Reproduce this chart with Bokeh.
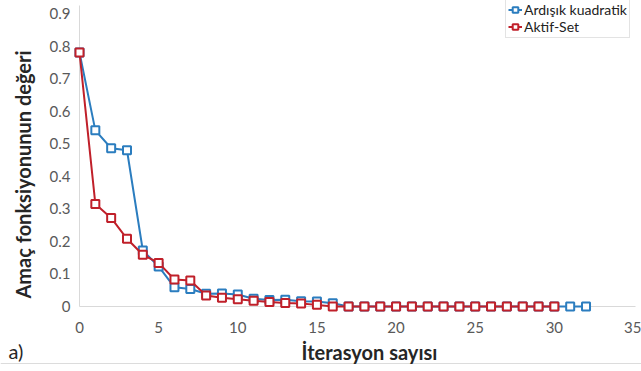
import math
from bokeh.plotting import figure
from bokeh.models import Range1d, Legend, LegendItem, Label, FixedTicker, Span
from bokeh.embed import file_html
from bokeh.resources import INLINE

iter_ak = list(range(0, 33))
ardisik_kuadratik = [0.78, 0.541, 0.486, 0.48, 0.172, 0.123, 0.059, 0.054, 0.039, 0.04,
                     0.037, 0.024, 0.02, 0.021, 0.016, 0.015, 0.01] + [0.0] * 16
iter_as = list(range(0, 31))
aktif_set = [0.78, 0.315, 0.272, 0.208, 0.159, 0.134, 0.083, 0.08, 0.034, 0.027,
             0.022, 0.018, 0.014, 0.011, 0.009, 0.005] + [0.0] * 15

x_ticks = [0, 5, 10, 15, 20, 25, 30, 35]
y_ticks = [0, 0.1, 0.2, 0.3, 0.4, 0.5, 0.6, 0.7, 0.8, 0.9]
x_title = "İterasyon sayısı"
y_title = "Amaç fonksiyonunun değeri"
panel_tag = "a)"

BLUE = "#2b7dbf"
RED = "#c0202a"
FONT = "Lato"

W, H = 641, 371
X0_PX, X35_PX = 79, 633      # pixel columns of x=0 and x=35
Y0_PX, Y09_PX = 306, 13      # pixel rows of y=0 and y=0.9
sx = (X35_PX - X0_PX) / 35.0
sy = (Y0_PX - Y09_PX) / 0.9

# frame fills the whole canvas; axes are drawn at fixed locations inside it
p = figure(width=W, height=H, output_backend="svg", toolbar_location=None,
           x_range=Range1d(-X0_PX / sx, (W - X0_PX) / sx),
           y_range=Range1d(-(H - Y0_PX) / sy, Y0_PX / sy),
           min_border=0, x_axis_location="below", y_axis_location="left")
p.outline_line_color = None
p.xgrid.grid_line_color = None
p.ygrid.grid_line_color = None

for ax in (p.xaxis[0], p.yaxis[0]):
    ax.fixed_location = 0
    ax.axis_line_color = None
    ax.major_tick_line_color = None
    ax.minor_tick_line_color = None
    ax.major_tick_out = 0
    ax.major_tick_in = 0
    ax.major_label_text_font = FONT
    ax.major_label_text_font_size = "15px"
    ax.major_label_text_color = "#595959"

p.xaxis.ticker = FixedTicker(ticks=x_ticks)
p.yaxis.ticker = FixedTicker(ticks=y_ticks)
p.yaxis.formatter.use_scientific = False
p.xaxis.major_label_standoff = 15
p.yaxis.major_label_standoff = 9
p.yaxis.major_label_overrides = {0: "0"}

# axis lines (light grey), from the axis origin
p.segment(x0=[0, 0], y0=[0, 0], x1=[(X35_PX + 2 - X0_PX) / sx, 0],
          y1=[0, (Y0_PX - 5) / sy], line_color="#d9d9d9", line_width=1)
# bottom border of the chart area
p.add_layout(Span(location=-(363 - Y0_PX) / sy, dimension="width",
                  line_color="#dcdcdc", line_width=1))

l1 = p.line(iter_ak, ardisik_kuadratik, line_color=BLUE, line_width=2)
m1 = p.scatter(iter_ak, ardisik_kuadratik, marker="square", size=8,
               line_color=BLUE, line_width=2, fill_color="white")
l2 = p.line(iter_as, aktif_set, line_color=RED, line_width=2)
m2 = p.scatter(iter_as, aktif_set, marker="square", size=8,
               line_color=RED, line_width=2, fill_color="white")

legend = Legend(items=[LegendItem(label="Ardışık kuadratik", renderers=[l1, m1]),
                       LegendItem(label="Aktif-Set", renderers=[l2, m2])],
                location=(505, H - 38))
legend.label_text_font = FONT
legend.label_text_font_size = "14px"
legend.label_text_line_height = 1.0
legend.label_text_color = "#222222"
legend.border_line_color = "#c8c8c8"
legend.background_fill_color = "white"
legend.background_fill_alpha = 1
legend.glyph_width = 14
legend.glyph_height = 17
legend.label_height = 17
legend.label_standoff = 2
legend.spacing = 0
legend.padding = 2
legend.margin = 0
p.add_layout(legend, "center")

# axis titles
p.add_layout(Label(x=369, y=H - 351, x_units="screen", y_units="screen", text=x_title,
                   text_font=FONT, text_font_size="20px", text_font_style="bold",
                   text_color="#262626", text_align="center", text_baseline="middle"))
p.add_layout(Label(x=22, y=H - 174, x_units="screen", y_units="screen", text=y_title,
                   angle=math.pi / 2, text_font=FONT, text_font_size="20px",
                   text_font_style="bold", text_color="#262626",
                   text_align="center", text_baseline="middle"))

p.add_layout(Label(x=8, y=H - 362, x_units="screen", y_units="screen", text=panel_tag,
                   text_font=FONT, text_font_size="20px", text_color="#262626"))

open("out.html", "w").write(file_html(p, INLINE))
